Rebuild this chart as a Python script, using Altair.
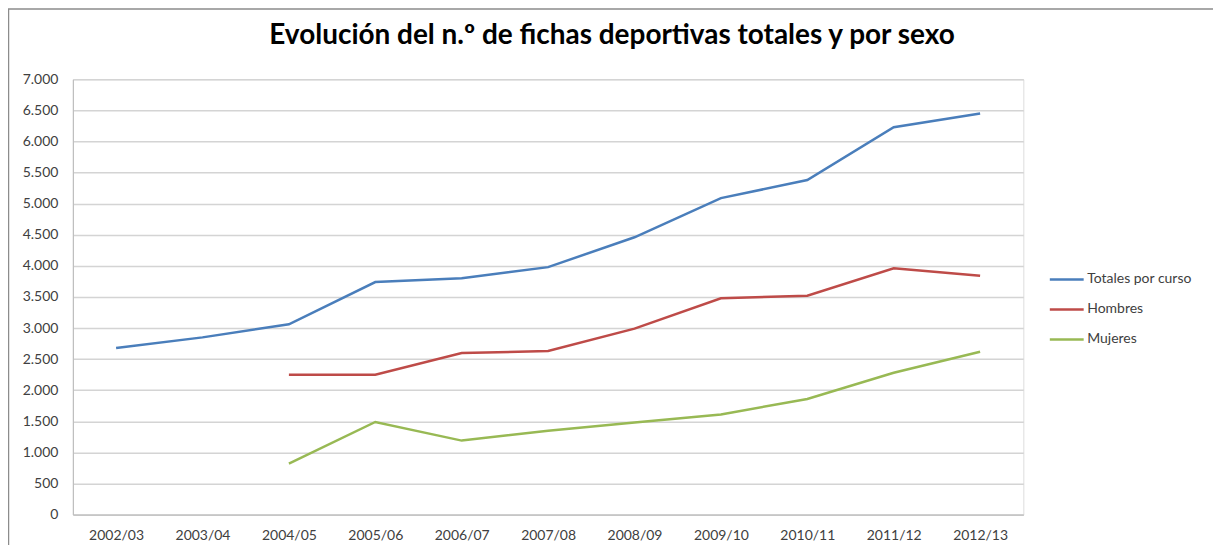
import altair as alt
import pandas as pd

cursos = ["2002/03", "2003/04", "2004/05", "2005/06", "2006/07", "2007/08",
          "2008/09", "2009/10", "2010/11", "2011/12", "2012/13"]
totales = [2680, 2850, 3060, 3740, 3800, 3980, 4460, 5090, 5380, 6230, 6450]
hombres = [None, None, 2250, 2250, 2600, 2630, 2990, 3480, 3520, 3960, 3840]
mujeres = [None, None, 820, 1490, 1190, 1350, 1480, 1610, 1860, 2280, 2620]

series_names = ["Totales por curso", "Hombres", "Mujeres"]
series_colors = ["#4a7ebb", "#be4b48", "#98b954"]

rows = []
for name, vals in zip(series_names, [totales, hombres, mujeres]):
    for c, v in zip(cursos, vals):
        if v is not None:
            rows.append({"curso": c, "serie": name, "valor": v})
df = pd.DataFrame(rows)

FONT = "Lato"
W, H = 952, 436

lines = alt.Chart(df).mark_line(strokeWidth=2.5).encode(
    x=alt.X("curso:N", sort=cursos, scale=alt.Scale(type="point", padding=0.5),
            axis=alt.Axis(title=None, labelAngle=0, ticks=False, grid=False,
                          domainColor="#bfbfbf", domainWidth=1.2,
                          labelPadding=14, labelFontSize=14, labelFont=FONT,
                          labelColor="#404040")),
    y=alt.Y("valor:Q", scale=alt.Scale(domain=[0, 7000]),
            axis=alt.Axis(title=None, values=list(range(0, 7001, 500)),
                          ticks=False, domain=True, domainColor="#bfbfbf",
                          domainWidth=1.2,
                          gridColor="#d4d4d4", gridWidth=1.5,
                          labelPadding=15, labelFontSize=14, labelFont=FONT,
                          labelColor="#404040",
                          labelExpr="replace(format(datum.value, ','), ',', '.')")),
    color=alt.Color("serie:N", sort=series_names,
                    scale=alt.Scale(domain=series_names, range=series_colors),
                    legend=alt.Legend(title=None, orient="none", legendX=977,
                                      legendY=182, symbolType="stroke",
                                      symbolSize=1150, symbolStrokeWidth=2.5,
                                      labelFontSize=14, labelFont=FONT,
                                      labelColor="#404040", rowPadding=4,
                                      labelOffset=2)),
)

border = alt.Chart(pd.DataFrame({"a": [0]})).mark_rect(
    fill=None, stroke="#8c8c8c", strokeWidth=1.5, clip=False
).encode(
    x=alt.value(-64.5), x2=alt.value(W + 400),
    y=alt.value(-70.5), y2=alt.value(H + 400),
)

chart = alt.layer(border, lines).properties(
    width=W, height=H,
    title=alt.TitleParams(
        "Evolución del n.º de fichas deportivas totales y por sexo",
        font=FONT, fontSize=28, fontWeight="bold", color="#000000",
        anchor="middle", frame="group", baseline="alphabetic",
        dx=64, dy=64, offset=0,
    ),
    autosize=alt.AutoSizeParams(type="none"),
    padding={"left": 65, "top": 71, "right": 190, "bottom": 30},
).configure_view(stroke=None).configure(background="white")

chart.save("out.html", embed_options={"renderer": "svg", "actions": False})
